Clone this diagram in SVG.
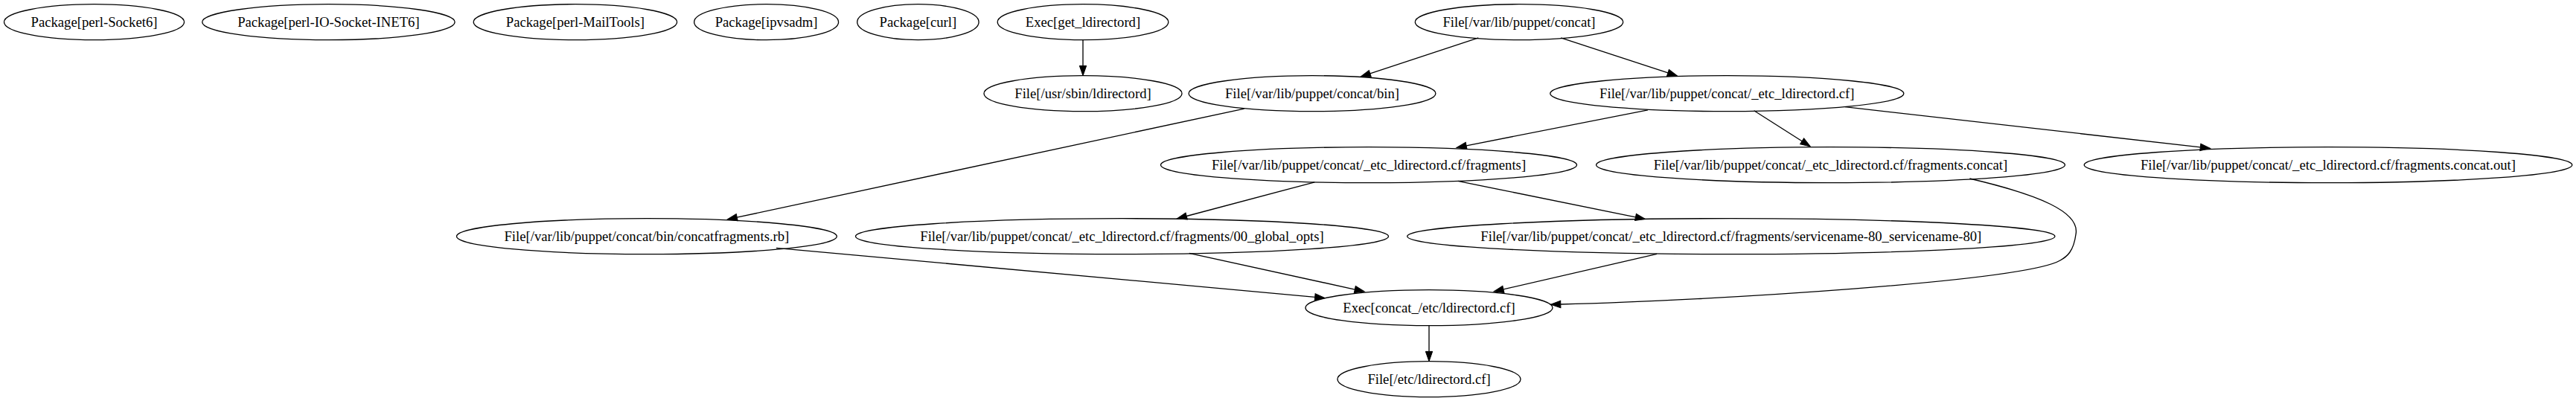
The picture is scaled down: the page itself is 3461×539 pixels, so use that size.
<svg xmlns="http://www.w3.org/2000/svg" width="3461" height="539" viewBox="0 0 3461 539">
<style>
.n ellipse{fill:none;stroke:#000;stroke-width:1.33}
.n text{font-family:"Liberation Serif","Times New Roman",serif;font-size:18.67px;text-anchor:middle;fill:#000}
.e path{fill:none;stroke:#000;stroke-width:1.33;marker-end:url(#ah)}
</style>
<defs>
<marker id="ah" markerUnits="userSpaceOnUse" viewBox="0 0 13.33 9.33" refX="0" refY="4.67" markerWidth="13.33" markerHeight="9.33" orient="auto" overflow="visible">
<path d="M0,0 L13.33,4.67 L0,9.33 Z" fill="#000" stroke="#000" stroke-width="1"/>
</marker>
</defs>
<rect width="3461" height="539" fill="#fff"/>
<g id="connectors" class="e">
<path d="M1455,53.7 L1455,88.4"/>
<path d="M1986.3,50.9 L1840.8,98.9"/>
<path d="M2097.2,50.9 L2240.9,97.95"/>
<path d="M1671.7,146.1 L990.2,292.2"/>
<path d="M2214,147.8 L1970.1,195.8"/>
<path d="M2356.7,148.8 L2421.1,189.8"/>
<path d="M2478.8,143.7 L2956.3,197.9"/>
<path d="M1766.3,244.8 L1594.2,290.5"/>
<path d="M1958.8,243.4 L2197.5,291.9"/>
<path d="M2646.4,240 C2740,262 2795,285 2789,315 C2786,338 2777,345 2768,350 C2720,378 2300,404 2096.8,409"/>
<path d="M1043,333.3 L1766.7,399.3"/>
<path d="M1597.8,340.3 L1820.3,389.05"/>
<path d="M2226.1,341.4 L2019.9,388.9"/>
<path d="M1920,437.7 L1920,472.4"/>
</g>
<g id="n1" class="n"><ellipse cx="126.5" cy="29.7" rx="121" ry="24"/><text x="126.5" y="35.7">Package[perl-Socket6]</text></g>
<g id="n2" class="n"><ellipse cx="441.4" cy="29.7" rx="169.7" ry="24"/><text x="441.4" y="35.7">Package[perl-IO-Socket-INET6]</text></g>
<g id="n3" class="n"><ellipse cx="772.9" cy="29.7" rx="136.7" ry="24"/><text x="772.9" y="35.7">Package[perl-MailTools]</text></g>
<g id="n4" class="n"><ellipse cx="1029.6" cy="29.7" rx="97" ry="24"/><text x="1029.6" y="35.7">Package[ipvsadm]</text></g>
<g id="n5" class="n"><ellipse cx="1233.4" cy="29.7" rx="81.7" ry="24"/><text x="1233.4" y="35.7">Package[curl]</text></g>
<g id="n6" class="n"><ellipse cx="1455" cy="29.7" rx="114.8" ry="24"/><text x="1455" y="35.7">Exec[get_ldirectord]</text></g>
<g id="n7" class="n"><ellipse cx="2041" cy="29.7" rx="139.7" ry="24"/><text x="2041" y="35.7">File[/var/lib/puppet/concat]</text></g>
<g id="n8" class="n"><ellipse cx="1455" cy="125.7" rx="133" ry="24"/><text x="1455" y="131.7">File[/usr/sbin/ldirectord]</text></g>
<g id="n9" class="n"><ellipse cx="1763" cy="125.7" rx="165.9" ry="24"/><text x="1763" y="131.7">File[/var/lib/puppet/concat/bin]</text></g>
<g id="n10" class="n"><ellipse cx="2320.3" cy="125.7" rx="237.5" ry="24"/><text x="2320.3" y="131.7">File[/var/lib/puppet/concat/_etc_ldirectord.cf]</text></g>
<g id="n11" class="n"><ellipse cx="1839" cy="221.7" rx="279.5" ry="24"/><text x="1839" y="227.7">File[/var/lib/puppet/concat/_etc_ldirectord.cf/fragments]</text></g>
<g id="n12" class="n"><ellipse cx="2459.5" cy="221.7" rx="314.9" ry="24"/><text x="2459.5" y="227.7">File[/var/lib/puppet/concat/_etc_ldirectord.cf/fragments.concat]</text></g>
<g id="n13" class="n"><ellipse cx="3128" cy="221.7" rx="327.8" ry="24"/><text x="3128" y="227.7">File[/var/lib/puppet/concat/_etc_ldirectord.cf/fragments.concat.out]</text></g>
<g id="n14" class="n"><ellipse cx="868.9" cy="317.7" rx="255.4" ry="24"/><text x="868.9" y="323.7">File[/var/lib/puppet/concat/bin/concatfragments.rb]</text></g>
<g id="n15" class="n"><ellipse cx="1507.5" cy="317.7" rx="358" ry="24"/><text x="1507.5" y="323.7">File[/var/lib/puppet/concat/_etc_ldirectord.cf/fragments/00_global_opts]</text></g>
<g id="n16" class="n"><ellipse cx="2325.8" cy="317.7" rx="435.1" ry="24"/><text x="2325.8" y="323.7">File[/var/lib/puppet/concat/_etc_ldirectord.cf/fragments/servicename-80_servicename-80]</text></g>
<g id="n17" class="n"><ellipse cx="1920" cy="413.7" rx="166" ry="24"/><text x="1920" y="419.7">Exec[concat_/etc/ldirectord.cf]</text></g>
<g id="n18" class="n"><ellipse cx="1920" cy="509.7" rx="123" ry="24"/><text x="1920" y="515.7">File[/etc/ldirectord.cf]</text></g>
</svg>
